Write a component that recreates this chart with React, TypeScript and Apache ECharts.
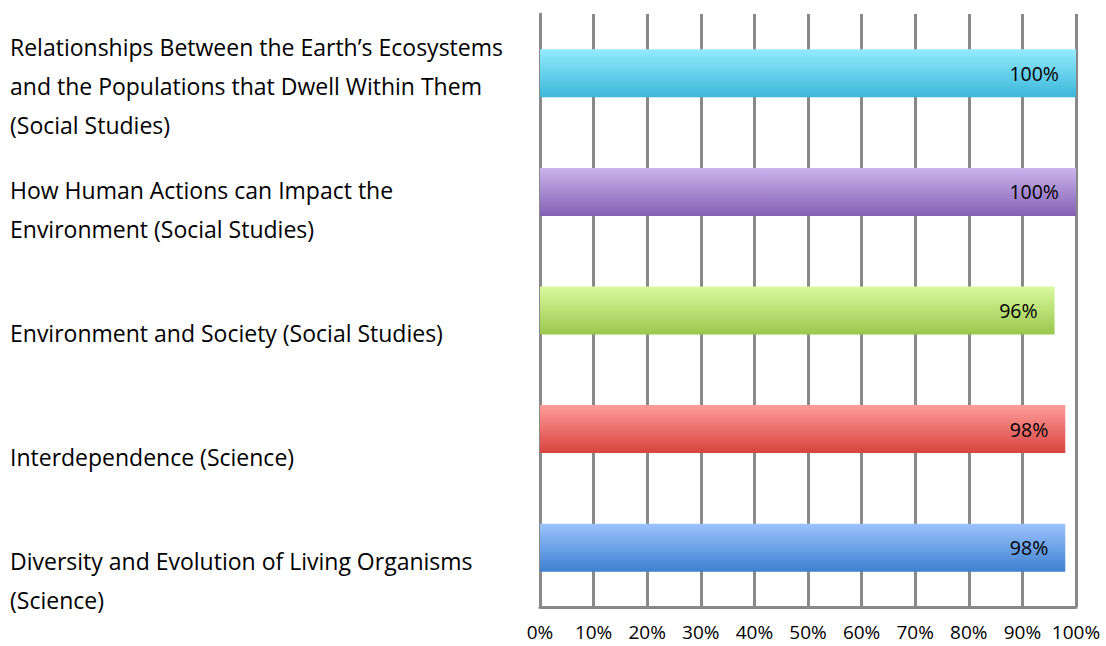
import React, { useEffect, useRef } from "react";
import * as echarts from "echarts";

const categories = [
  "Diversity and Evolution of Living Organisms\n(Science)",
  "Interdependence (Science)",
  "Environment and Society (Social Studies)",
  "How Human Actions can Impact the\nEnvironment (Social Studies)",
  "Relationships Between the Earth’s Ecosystems\nand the Populations that Dwell Within Them\n(Social Studies)",
];
const values = [98, 98, 96, 100, 100];
const topColors = ["#9BC3FD", "#FF9D9B", "#DAF99E", "#CAB4EC", "#93EBFD"];
const bottomColors = ["#3E80D0", "#D7423E", "#9AC74D", "#8460B4", "#3CB6DA"];
const xTicks = { min: 0, max: 100, interval: 10 };

const FONT = "'Open Sans', 'Liberation Sans', Arial, sans-serif";

export default function App() {
  const ref = useRef<HTMLDivElement>(null);
  useEffect(() => {
    if (!ref.current) return;
    const chart = echarts.init(ref.current, null, { renderer: "svg" });
    chart.setOption({
      animation: false,
      backgroundColor: "#ffffff",
      textStyle: { fontFamily: FONT },
      grid: [
        { left: 540, right: 30, top: 14, bottom: 39 },
        { left: 540, right: 30, top: 24, bottom: 4 },
      ],
      xAxis: [
        {
          gridIndex: 0,
          type: "value",
          min: xTicks.min,
          max: xTicks.max,
          interval: xTicks.interval,
          axisLine: { show: true, lineStyle: { color: "#898989", width: 3 } },
          axisTick: { show: false },
          splitLine: { show: true, lineStyle: { color: "#898989", width: 3 } },
          axisLabel: {
            formatter: "{value}%",
            fontSize: 19,
            lineHeight: 18,
            color: "#000",
            margin: 16,
            fontFamily: FONT,
          },
        },
        { gridIndex: 1, type: "value", show: false, min: 0, max: 100 },
      ],
      yAxis: [
        {
          gridIndex: 0,
          type: "category",
          data: categories,
          axisLine: { show: true, lineStyle: { color: "#898989", width: 3 } },
          axisTick: { show: false },
          axisLabel: { show: false },
          splitLine: { show: false },
        },
        {
          gridIndex: 1,
          type: "category",
          data: categories,
          axisLine: { show: false },
          axisTick: { show: false },
          splitLine: { show: false },
          axisLabel: {
            align: "left",
            margin: 530,
            fontSize: 23,
            lineHeight: 39,
            color: "#000",
            fontFamily: FONT,
          },
        },
      ],
      series: [
        {
          type: "bar",
          xAxisIndex: 0,
          yAxisIndex: 0,
          barWidth: 48,
          data: values.map((v, i) => ({
            value: v,
            itemStyle: {
              color: new echarts.graphic.LinearGradient(0, 0, 0, 1, [
                { offset: 0, color: topColors[i] },
                { offset: 1, color: bottomColors[i] },
              ]),
            },
          })),
          label: {
            show: true,
            position: "insideRight",
            distance: 17,
            formatter: "{c}%",
            fontSize: 19.5,
            color: "#000",
            fontFamily: FONT,
          },
        },
      ],
    });
    return () => chart.dispose();
  }, []);
  return <div ref={ref} style={{ width: 1106, height: 646, position: "absolute", left: 0, top: 0 }} />;
}
